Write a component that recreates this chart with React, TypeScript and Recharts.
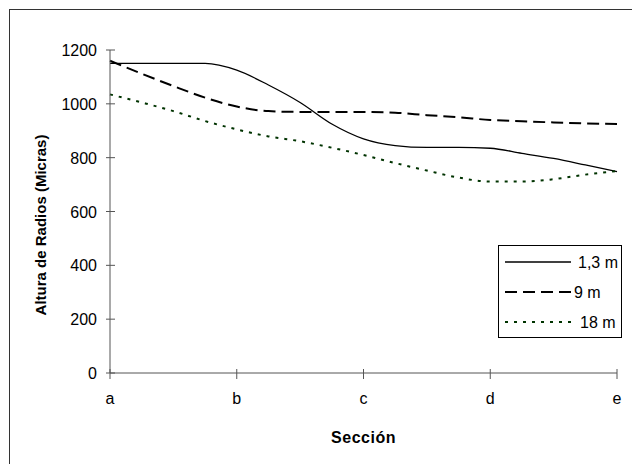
import * as React from "react";
import { Label, Legend, Line, LineChart, XAxis, YAxis } from "recharts";

// sections on the x axis, each split into 4 measuring steps
const categories = ["a", "b", "c", "d", "e"];
const STEPS = 4;
const yTicks = [0, 200, 400, 600, 800, 1000, 1200];

// altura de radios (micras) at each step
const altura13 = [1150, 1150, 1150, 1150, 1125, 1070, 1005, 925, 870, 845, 838, 838, 835, 816, 797, 773, 748];
const altura9 = [1160, 1112, 1066, 1023, 990, 973, 970, 970, 970, 967, 958, 950, 940, 935, 931, 927, 925];
const altura18 = [1035, 1005, 973, 936, 905, 879, 861, 837, 810, 780, 752, 726, 711, 711, 720, 737, 750];

const seriesNames = ["1,3 m", "9 m", "18 m"];

const data = altura13.map((v, i) => ({
  pos: i,
  s13: v,
  s9: altura9[i],
  s18: altura18[i],
}));

const FONT = "'Liberation Sans', Arial, sans-serif";
const AXIS = "#555";

const XTick = (props: any) => {
  const { x, y, payload } = props;
  return (
    <g>
      <line x1={x} x2={x} y1={y - 4} y2={y + 6} stroke={AXIS} />
      <text x={x} y={y + 31} textAnchor="middle" fontSize={16} fontFamily={FONT} fill="#000">
        {categories[payload.value / STEPS]}
      </text>
    </g>
  );
};

const YTick = (props: any) => {
  const { x, y, payload } = props;
  return (
    <g>
      <line x1={x - 4} x2={x + 5} y1={y} y2={y} stroke={AXIS} />
      <text x={x - 13} y={y + 6} textAnchor="end" fontSize={16} fontFamily={FONT} fill="#000">
        {payload.value}
      </text>
    </g>
  );
};

const styles = [
  { key: "s13", stroke: "#000", width: 1.3, dash: undefined, textX: 79 },
  { key: "s9", stroke: "#000", width: 2, dash: "12 6", textX: 75 },
  { key: "s18", stroke: "#003300", width: 2, dash: "3 6", textX: 81 },
];

const LegendBox = () => (
  <div style={{ width: 122, height: 91, border: "1px solid #000", background: "#fff" }}>
    <svg width={122} height={91} style={{ display: "block" }}>
      {styles.map((s, i) => (
        <g key={s.key}>
          <line
            x1={6}
            x2={72}
            y1={16 + i * 30}
            y2={16 + i * 30}
            stroke={s.stroke}
            strokeWidth={s.width}
            strokeDasharray={s.dash}
          />
          <text x={s.textX} y={22 + i * 30} fontSize={16} fontFamily={FONT} fill="#000">
            {seriesNames[i]}
          </text>
        </g>
      ))}
    </svg>
  </div>
);

export default function App() {
  return (
    <div style={{ position: "absolute", left: 0, top: 0, width: 632, height: 464, background: "#fff" }}>
      <div
        style={{
          position: "absolute",
          left: 9,
          top: 9,
          width: 623,
          height: 455,
          borderLeft: "1px solid #333",
          borderTop: "1px solid #333",
        }}
      />
      <LineChart
        width={632}
        height={464}
        data={data}
        margin={{ top: 50, right: 15, bottom: 21, left: 30 }}
        style={{ position: "absolute", left: 0, top: 0 }}
      >
        <XAxis
          type="number"
          dataKey="pos"
          domain={[0, 16]}
          ticks={[0, 4, 8, 12, 16]}
          height={70}
          tickSize={0}
          tickMargin={0}
          tickLine={false}
          tick={<XTick />}
          axisLine={{ stroke: AXIS }}
        >
          <Label
            value="Sección"
            position="insideBottom"
            offset={0}
            style={{ fontFamily: FONT, fontSize: 16, fontWeight: "bold", fill: "#000", letterSpacing: 0.5 }}
          />
        </XAxis>
        <YAxis
          domain={[0, 1200]}
          ticks={yTicks}
          width={80}
          tickSize={0}
          tickMargin={0}
          tickLine={false}
          tick={<YTick />}
          axisLine={{ stroke: AXIS }}
        >
          <Label
            content={() => (
              <text
                x={40}
                y={225}
                transform="rotate(-90 40 225)"
                textAnchor="middle"
                dominantBaseline="central"
                fontFamily={FONT}
                fontSize={15}
                fontWeight="bold"
                fill="#000"
              >
                Altura de Radios (Micras)
              </text>
            )}
          />
        </YAxis>
        {styles.map((s, i) => (
          <Line
            key={s.key}
            type="monotone"
            dataKey={s.key}
            name={seriesNames[i]}
            stroke={s.stroke}
            strokeWidth={s.width}
            strokeDasharray={s.dash}
            dot={false}
            activeDot={false}
            isAnimationActive={false}
          />
        ))}
        <Legend
          layout="horizontal"
          verticalAlign="middle"
          align="center"
          content={<LegendBox />}
          wrapperStyle={{ position: "absolute", left: 498, top: 245, width: 124, height: 93 }}
        />
      </LineChart>
    </div>
  );
}
